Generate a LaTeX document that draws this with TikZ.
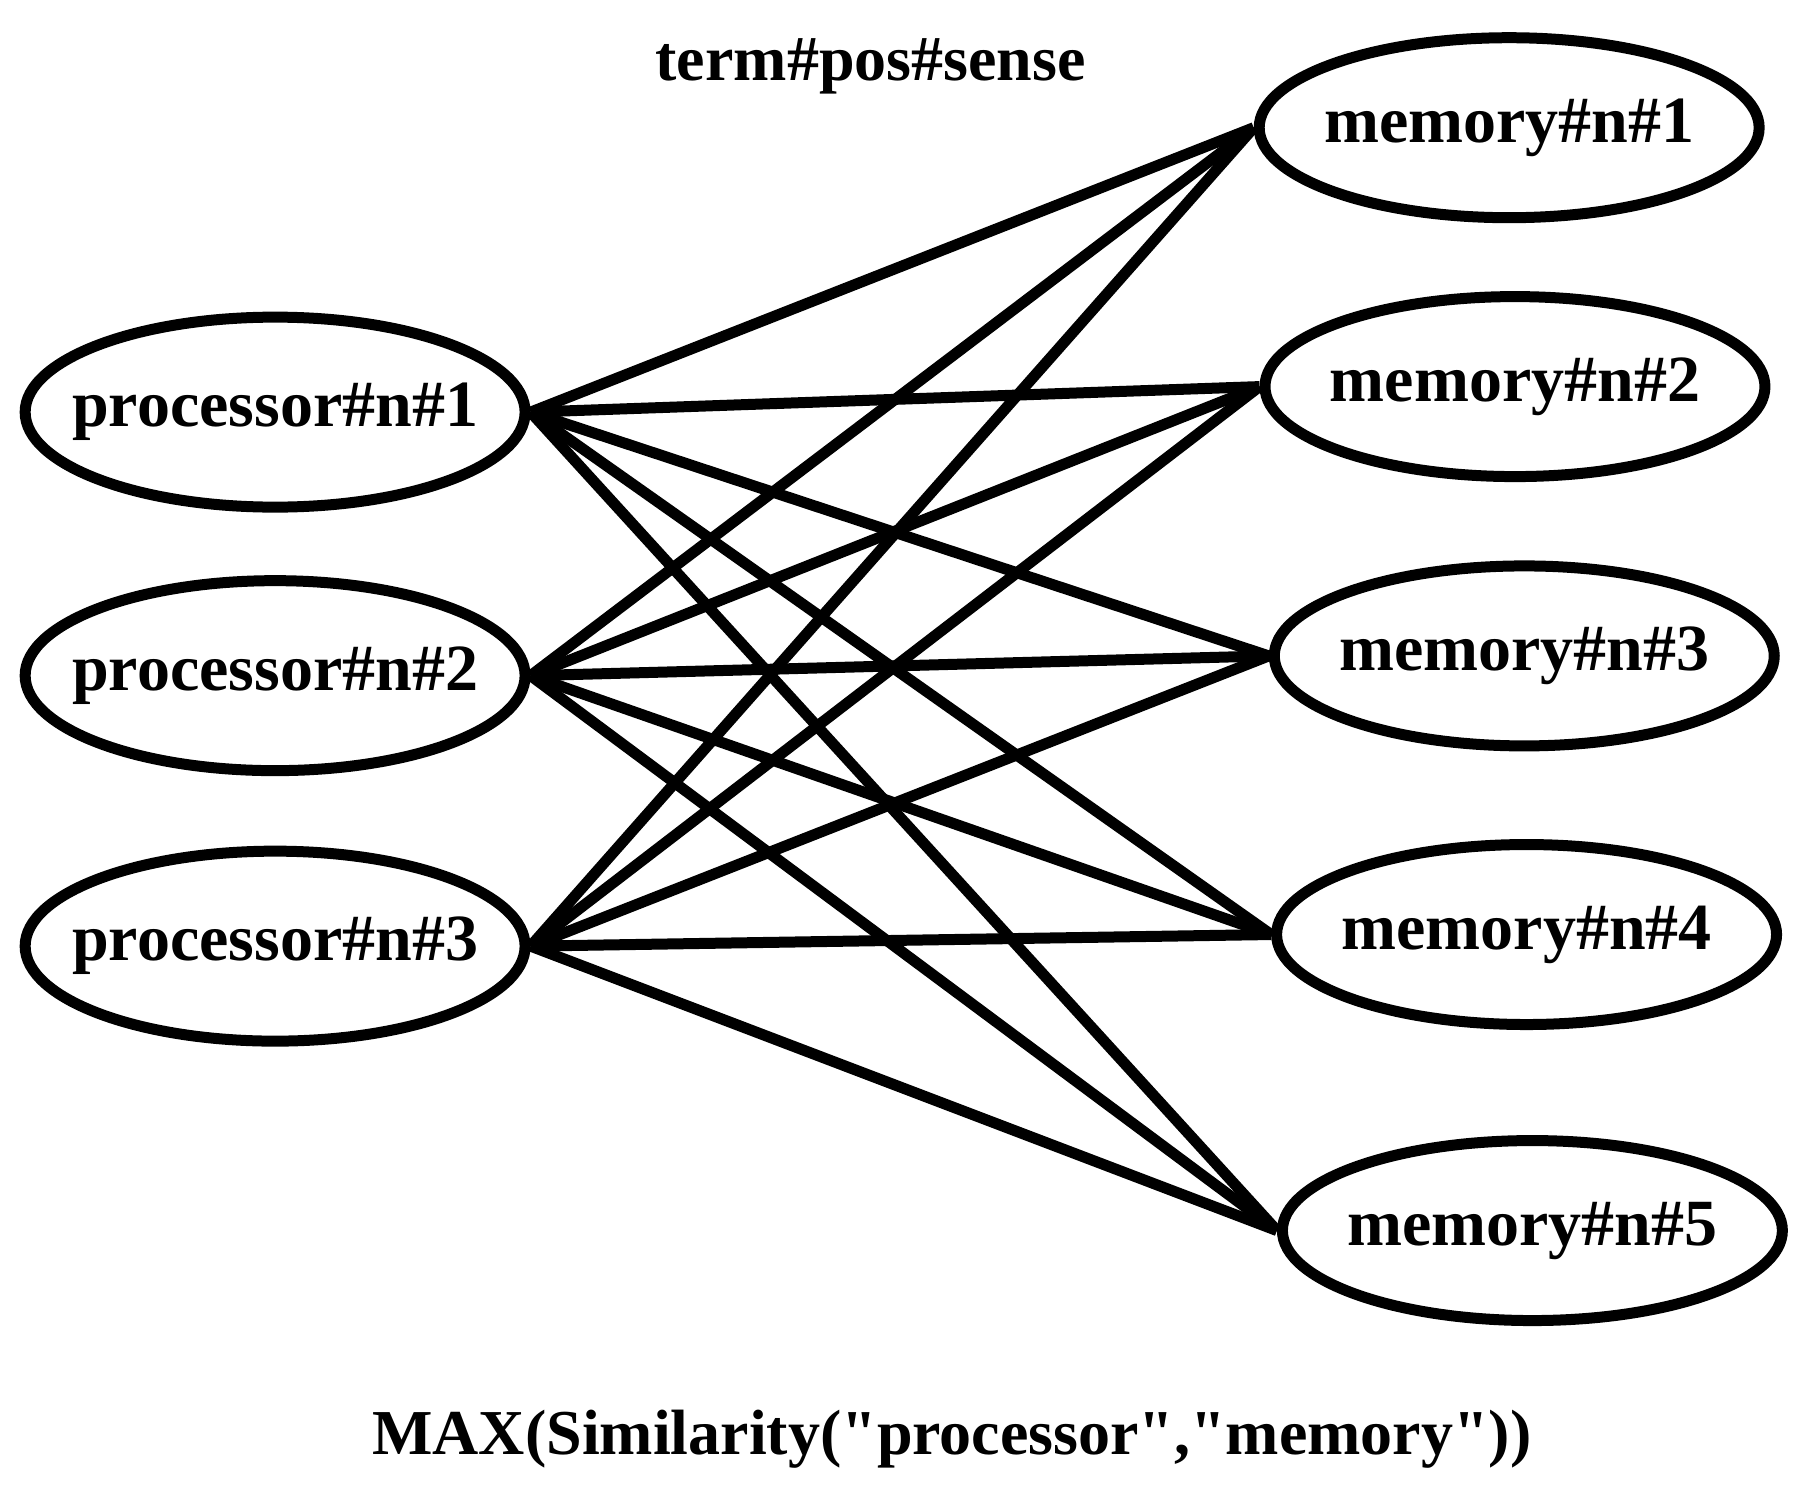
\documentclass[tikz,border=0pt]{standalone}
\usepackage{fontspec}
\setmainfont{Liberation Serif}[Ligatures=TeXOff]
\usetikzlibrary{shapes.geometric}
\begin{document}
\begin{tikzpicture}[x=1.161pt,y=-1.161pt,
  el/.style={ellipse,draw,line width=11pt,inner xsep=-70pt,inner ysep=-10pt,font=\fontsize{66}{70}\selectfont\bfseries},
  pn/.style={el,minimum width=500pt,minimum height=190pt},
  mn/.style={el,minimum width=500pt,minimum height=180pt},
  ln/.style={line width=11pt},
  lab/.style={font=\fontsize{64}{68}\selectfont\bfseries}]
\useasboundingbox (0,0) rectangle (1560,1285);
\node[pn] (p1) at (237,355) {processor\#n\#1};
\node[pn] (p2) at (237,582) {processor\#n\#2};
\node[pn] (p3) at (237,815) {processor\#n\#3};
\node[mn] (m1) at (1300,110) {memory\#n\#1};
\node[mn] (m2) at (1305,333) {memory\#n\#2};
\node[mn] (m3) at (1313,565) {memory\#n\#3};
\node[mn] (m4) at (1315,805) {memory\#n\#4};
\node[mn] (m5) at (1320,1060) {memory\#n\#5};
\node[lab] (t) at (750,57) {term\#pos\#sense};
\node[lab] (mx) at (820,1240) {MAX(Similarity("processor","memory"))};
\foreach \p in {p1,p2,p3}
  \foreach \m in {m1,m2,m3,m4,m5}
    \draw[ln] (\p.east) -- (\m.west);
\end{tikzpicture}
\end{document}
